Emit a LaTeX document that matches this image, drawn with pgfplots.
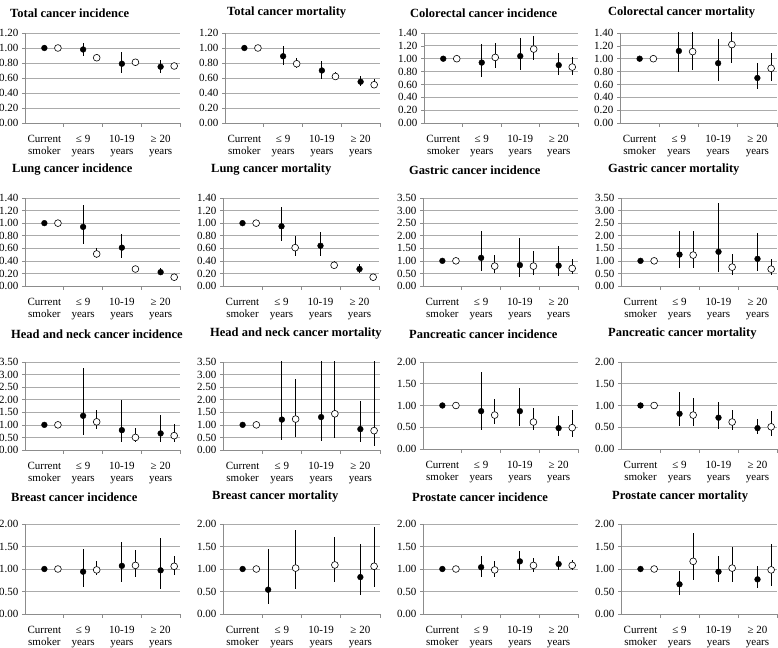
\documentclass[border=0pt]{standalone}
\usepackage{fontspec}
\setmainfont{Liberation Serif}
\usepackage{pgfplots}
\pgfplotsset{compat=1.18}
\newcommand{\tf}{\fontsize{11}{12}\selectfont}
\newcommand{\ttl}{\bfseries\fontsize{12.5}{14}\selectfont}
\pgfplotsset{
 pan/.style={
  scale only axis, anchor=south west,
  xmin=0.5, xmax=4.5, ymin=0,
  axis lines=left, axis line style={-, draw=black!45, line width=0.6pt},
  xtick={1,2,3,4},
  xticklabels={Current\\smoker, ≤ 9\\years, 10-19\\years, ≥ 20\\years},
  xticklabel style={align=center, font=\tf, inner sep=1pt, yshift=-8pt},
  minor xtick={1.5,2.5,3.5,4.5},
  minor tick length=4pt, major tick length=3pt,
  tick align=outside, tick style={black!45, line width=0.6pt},
  major x tick style={draw=none},
  ymajorgrids, grid style={black!33, line width=0.7pt},
  yticklabel style={font=\tf, /pgf/number format/.cd, fixed, fixed zerofill, precision=2, assume math mode=true},
 },
 fs/.style={only marks, mark=*, mark size=2.9pt, black, mark options={fill=black, draw=black},
   error bars/.cd, y dir=both, y explicit, error mark=none, error bar style={line width=1pt, black}},
 os/.style={only marks, mark=*, mark size=3.4pt, black, mark options={fill=white, draw=black, line width=0.6pt},
   error bars/.cd, y dir=both, y explicit, error mark=none, error bar style={line width=1pt, black}},
 /pgfplots/table/tb/.style={x=x, y=y, y error plus expr=\thisrow{hi}-\thisrow{y}, y error minus expr=\thisrow{y}-\thisrow{lo}, row sep=\\},
}
\begin{document}
\begin{tikzpicture}[x=1pt,y=1pt]
% ---------------- Row 1
\begin{axis}[pan, at={(25pt,524pt)}, width=155pt, height=90pt, ymax=1.2, ytick={0,0.2,...,1.21}]
\addplot[fs] table[tb]{x y lo hi\\ 1 1.00 1.00 1.00\\ 2 0.98 0.89 1.07\\ 3 0.79 0.67 0.94\\ 4 0.75 0.66 0.84\\};
\addplot[os] table[tb]{x y lo hi\\ 1.35 1.00 1.00 1.00\\ 2.35 0.87 0.84 0.91\\ 3.35 0.81 0.78 0.84\\ 4.35 0.76 0.72 0.80\\};
\end{axis}
\begin{axis}[pan, at={(225pt,524pt)}, width=155pt, height=90pt, ymax=1.2, ytick={0,0.2,...,1.21}]
\addplot[fs] table[tb]{x y lo hi\\ 1 1.00 1.00 1.00\\ 2 0.89 0.77 1.03\\ 3 0.70 0.59 0.83\\ 4 0.55 0.49 0.62\\};
\addplot[os] table[tb]{x y lo hi\\ 1.35 1.00 1.00 1.00\\ 2.35 0.79 0.73 0.86\\ 3.35 0.62 0.58 0.68\\ 4.35 0.51 0.46 0.58\\};
\end{axis}
\begin{axis}[pan, at={(424pt,524pt)}, width=154pt, height=90pt, ymax=1.4, ytick={0,0.2,...,1.41}]
\addplot[fs] table[tb]{x y lo hi\\ 1 1.00 1.00 1.00\\ 2 0.94 0.72 1.23\\ 3 1.04 0.83 1.32\\ 4 0.90 0.74 1.09\\};
\addplot[os] table[tb]{x y lo hi\\ 1.35 1.00 1.00 1.00\\ 2.35 1.02 0.85 1.24\\ 3.35 1.15 0.98 1.36\\ 4.35 0.87 0.75 1.03\\};
\end{axis}
\begin{axis}[pan, at={(620pt,524pt)}, width=157pt, height=90pt, ymax=1.4, ytick={0,0.2,...,1.41}]
\addplot[fs] table[tb]{x y lo hi\\ 1 1.00 1.00 1.00\\ 2 1.12 0.79 1.60\\ 3 0.93 0.66 1.31\\ 4 0.70 0.53 0.94\\};
\addplot[os] table[tb]{x y lo hi\\ 1.35 1.00 1.00 1.00\\ 2.35 1.11 0.83 1.50\\ 3.35 1.22 0.94 1.60\\ 4.35 0.85 0.66 1.09\\};
\end{axis}
% ---------------- Row 2
\begin{axis}[pan, at={(25pt,361pt)}, width=155pt, height=88pt, ymax=1.4, ytick={0,0.2,...,1.41}]
\addplot[fs] table[tb]{x y lo hi\\ 1 1.00 1.00 1.00\\ 2 0.94 0.67 1.29\\ 3 0.61 0.44 0.82\\ 4 0.22 0.18 0.29\\};
\addplot[os] table[tb]{x y lo hi\\ 1.35 1.00 1.00 1.00\\ 2.35 0.51 0.44 0.61\\ 3.35 0.27 0.24 0.30\\ 4.35 0.14 0.12 0.16\\};
\end{axis}
\begin{axis}[pan, at={(223pt,361pt)}, width=156pt, height=88pt, ymax=1.4, ytick={0,0.2,...,1.41}]
\addplot[fs] table[tb]{x y lo hi\\ 1 1.00 1.00 1.00\\ 2 0.95 0.72 1.26\\ 3 0.64 0.48 0.86\\ 4 0.27 0.21 0.35\\};
\addplot[os] table[tb]{x y lo hi\\ 1.35 1.00 1.00 1.00\\ 2.35 0.61 0.47 0.79\\ 3.35 0.33 0.29 0.40\\ 4.35 0.14 0.12 0.16\\};
\end{axis}
\begin{axis}[pan, at={(423pt,361pt)}, width=155pt, height=88pt, ymax=3.5, ytick={0,0.5,...,3.51}]
\addplot[fs] table[tb]{x y lo hi\\ 1 1.00 1.00 1.00\\ 2 1.12 0.59 2.18\\ 3 0.83 0.34 1.89\\ 4 0.81 0.40 1.58\\};
\addplot[os] table[tb]{x y lo hi\\ 1.35 1.00 1.00 1.00\\ 2.35 0.79 0.50 1.25\\ 3.35 0.79 0.44 1.40\\ 4.35 0.70 0.48 1.07\\};
\end{axis}
\begin{axis}[pan, at={(621pt,361pt)}, width=156pt, height=88pt, ymax=3.5, ytick={0,0.5,...,3.51}]
\addplot[fs] table[tb]{x y lo hi\\ 1 1.00 1.00 1.00\\ 2 1.25 0.73 2.18\\ 3 1.36 0.57 3.30\\ 4 1.08 0.58 2.12\\};
\addplot[os] table[tb]{x y lo hi\\ 1.35 1.00 1.00 1.00\\ 2.35 1.23 0.73 2.18\\ 3.35 0.75 0.44 1.27\\ 4.35 0.67 0.43 1.07\\};
\end{axis}
% ---------------- Row 3
\begin{axis}[pan, at={(25pt,197pt)}, width=155pt, height=88pt, ymax=3.5, ytick={0,0.5,...,3.51}]
\addplot[fs] table[tb]{x y lo hi\\ 1 1.00 1.00 1.00\\ 2 1.36 0.59 3.26\\ 3 0.79 0.30 1.98\\ 4 0.66 0.30 1.39\\};
\addplot[os] table[tb]{x y lo hi\\ 1.35 1.00 1.00 1.00\\ 2.35 1.12 0.83 1.58\\ 3.35 0.50 0.33 0.86\\ 4.35 0.57 0.33 1.02\\};
\end{axis}
\begin{axis}[pan, at={(223pt,197pt)}, width=157pt, height=88pt, ymax=3.5, ytick={0,0.5,...,3.51}]
\addplot[fs] table[tb]{x y lo hi\\ 1 1.00 1.00 1.00\\ 2 1.21 0.40 4.00\\ 3 1.31 0.37 4.00\\ 4 0.83 0.32 1.94\\};
\addplot[os] table[tb]{x y lo hi\\ 1.35 1.00 1.00 1.00\\ 2.35 1.23 0.53 2.84\\ 3.35 1.44 0.46 4.00\\ 4.35 0.77 0.16 4.00\\};
\end{axis}
\begin{axis}[pan, at={(423pt,198pt)}, width=155pt, height=87pt, ymax=2, ytick={0,0.5,...,2.01}]
\addplot[fs] table[tb]{x y lo hi\\ 1 1.00 1.00 1.00\\ 2 0.87 0.44 1.77\\ 3 0.87 0.52 1.41\\ 4 0.48 0.30 0.77\\};
\addplot[os] table[tb]{x y lo hi\\ 1.35 1.00 1.00 1.00\\ 2.35 0.78 0.57 1.14\\ 3.35 0.62 0.44 0.94\\ 4.35 0.49 0.27 0.90\\};
\end{axis}
\begin{axis}[pan, at={(621pt,198pt)}, width=156pt, height=87pt, ymax=2, ytick={0,0.5,...,2.01}]
\addplot[fs] table[tb]{x y lo hi\\ 1 1.00 1.00 1.00\\ 2 0.81 0.52 1.32\\ 3 0.72 0.46 1.09\\ 4 0.48 0.34 0.69\\};
\addplot[os] table[tb]{x y lo hi\\ 1.35 1.00 1.00 1.00\\ 2.35 0.78 0.52 1.18\\ 3.35 0.62 0.44 0.90\\ 4.35 0.51 0.31 0.88\\};
\end{axis}
% ---------------- Row 4
\begin{axis}[pan, at={(25pt,33pt)}, width=155pt, height=90pt, ymax=2, ytick={0,0.5,...,2.01}]
\addplot[fs] table[tb]{x y lo hi\\ 1 1.00 1.00 1.00\\ 2 0.94 0.61 1.45\\ 3 1.07 0.71 1.60\\ 4 0.97 0.56 1.69\\};
\addplot[os] table[tb]{x y lo hi\\ 1.35 1.00 1.00 1.00\\ 2.35 0.98 0.86 1.17\\ 3.35 1.08 0.83 1.43\\ 4.35 1.06 0.87 1.29\\};
\end{axis}
\begin{axis}[pan, at={(223pt,33pt)}, width=157pt, height=90pt, ymax=2, ytick={0,0.5,...,2.01}]
\addplot[fs] table[tb]{x y lo hi\\ 1 1.00 1.00 1.00\\ 1.65 0.54 0.22 1.45\\ 4 0.82 0.42 1.56\\};
\addplot[os] table[tb]{x y lo hi\\ 1.35 1.00 1.00 1.00\\ 2.35 1.02 0.56 1.86\\ 3.35 1.09 0.72 1.71\\ 4.35 1.06 0.59 1.93\\};
\end{axis}
\begin{axis}[pan, at={(423pt,33pt)}, width=155pt, height=90pt, ymax=2, ytick={0,0.5,...,2.01}]
\addplot[fs] table[tb]{x y lo hi\\ 1 1.00 1.00 1.00\\ 2 1.04 0.83 1.28\\ 3 1.17 0.97 1.39\\ 4 1.11 0.97 1.29\\};
\addplot[os] table[tb]{x y lo hi\\ 1.35 1.00 1.00 1.00\\ 2.35 0.98 0.83 1.18\\ 3.35 1.08 0.94 1.24\\ 4.35 1.08 0.98 1.20\\};
\end{axis}
\begin{axis}[pan, at={(621pt,33pt)}, width=156pt, height=90pt, ymax=2, ytick={0,0.5,...,2.01}]
\addplot[fs] table[tb]{x y lo hi\\ 1 1.00 1.00 1.00\\ 2 0.66 0.42 0.96\\ 3 0.94 0.70 1.29\\ 4 0.77 0.57 1.07\\};
\addplot[os] table[tb]{x y lo hi\\ 1.35 1.00 1.00 1.00\\ 2.35 1.17 0.76 1.81\\ 3.35 1.02 0.71 1.48\\ 4.35 0.98 0.62 1.55\\};
\end{axis}
% ---------------- Titles
\begin{scope}[every node/.style={anchor=west, inner sep=0pt, font=\ttl}]
\node at (10,634) {Total cancer incidence};
\node at (227,634) {Total cancer mortality};
\node at (410,634) {Colorectal cancer incidence};
\node at (608,634) {Colorectal cancer mortality};
\node at (12,477) {Lung cancer incidence};
\node at (211,477) {Lung cancer mortality};
\node at (409,477) {Gastric cancer incidence};
\node at (608,477) {Gastric cancer mortality};
\node at (11,313) {Head and neck cancer incidence};
\node at (210,313) {Head and neck cancer mortality};
\node at (409,313) {Pancreatic cancer incidence};
\node at (608,313) {Pancreatic cancer mortality};
\node at (11,150) {Breast cancer incidence};
\node at (212,150) {Breast cancer mortality};
\node at (412,150) {Prostate cancer incidence};
\node at (612,150) {Prostate cancer mortality};
\end{scope}
\pgfresetboundingbox
\path (0,0) rectangle (778,647);
\end{tikzpicture}
\end{document}
